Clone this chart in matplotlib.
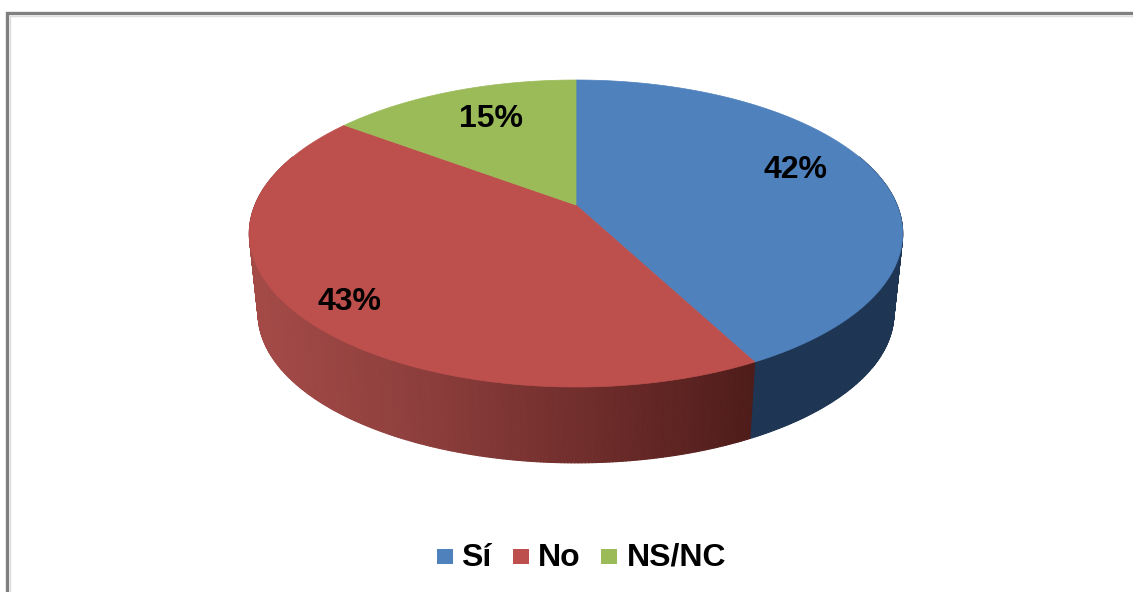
import numpy as np
import matplotlib
matplotlib.use('Agg')
import matplotlib.pyplot as plt
from matplotlib.collections import PolyCollection
from matplotlib.colors import LinearSegmentedColormap
from matplotlib.patches import Rectangle

categorias = ['Sí', 'No', 'NS/NC']
# las etiquetas muestran 42, 43 y 15; los cortes de la tarta dan algo mas de detalle
valores = [42.3, 42.9, 14.8]
colores = ['#4f81bd', '#bd4f4c', '#9bbb59']

# todo en pixeles de la imagen
plt.rcParams['font.family'] = ['Liberation Sans', 'DejaVu Sans']
fig = plt.figure(figsize=(11.33, 5.92), dpi=100)
ax = fig.add_axes([0, 0, 1, 1])
ax.set_xlim(0, 1133)
ax.set_ylim(592, 0)
ax.axis('off')

# marco gris
ax.plot([7, 7, 1133], [592, 13, 13], color='#808080', lw=2.4, solid_joinstyle='miter')
ax.plot([9.5, 9.5, 1133], [592, 15.5, 15.5], color='#dddddd', lw=1)

# tarta con perspectiva
cx, cy, rx, ry = 576, 233.5, 321, 153.5
apice = 28.5
c = apice * 2 / (2 * ry)
prof_y, esc = 80, 0.973


def borde(t, base=False):
    den = 1 + c * np.cos(t)
    x = rx * np.sin(t) / den
    y = (ry * np.cos(t) + apice) / den
    if base:
        return cx + x * esc, cy + prof_y - y * esc
    return cx + x, cy - y


rojo_lado = LinearSegmentedColormap.from_list('r', ['#a34a47', '#8c3e3c', '#6f2d2b', '#4e1c1a'])
azul_lado = LinearSegmentedColormap.from_list('a', ['#1b314e', '#1e3553'])
verde_lado = LinearSegmentedColormap.from_list('v', ['#5d7135', '#5d7135'])
mapas = [azul_lado, rojo_lado, verde_lado]

limites = np.cumsum([0] + valores) / sum(valores) * 2 * np.pi

# lados
for i in range(len(valores)):
    t = np.linspace(limites[i], limites[i + 1], 300)
    visibles = t[np.cos(t) < 0.35]
    if len(visibles) < 2:
        continue
    polys, cols = [], []
    for t0, t1 in zip(visibles[:-1], visibles[1:]):
        x0, y0 = borde(t0)
        x1, y1 = borde(t1)
        x2, y2 = borde(t1, True)
        x3, y3 = borde(t0, True)
        polys.append([(x0, y0), (x1, y1), (x2, y2), (x3, y3)])
        cols.append(mapas[i](np.clip(((x0 + x1) / 2 - 258) / (756 - 258), 0, 1)))
    ax.add_collection(PolyCollection(polys, facecolors=cols, edgecolors=cols, linewidths=0.8, zorder=2))

# cara superior
apice_xy = (cx, cy - apice)
for i in range(len(valores)):
    t = np.linspace(limites[i], limites[i + 1], 300)
    x, y = borde(t)
    ax.fill(np.r_[apice_xy[0], x], np.r_[apice_xy[1], y], color=colores[i], lw=0.5, zorder=3)

# etiquetas de porcentaje
pos_etiquetas = [(796, 170), (349, 302), (491, 119)]
for v, (px, py) in zip(valores, pos_etiquetas):
    ax.text(px, py, f'{v:.0f}%', fontsize=23, fontweight='bold', color='black',
            ha='center', va='center', zorder=4)

# leyenda
pos_cuadro = [437, 513, 601]
pos_texto = [461, 538, 627]
for nombre, col, xc, xt in zip(categorias, colores, pos_cuadro, pos_texto):
    ax.add_patch(Rectangle((xc, 549), 16, 15, color=col, lw=0))
    ax.text(xt, 566, nombre, fontsize=23, fontweight='bold', color='black',
            ha='left', va='baseline')

fig.savefig('out.png', dpi=100, facecolor='white')
